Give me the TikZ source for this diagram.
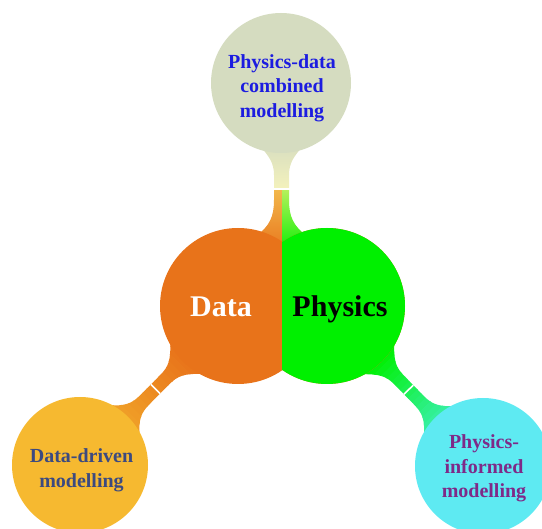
\documentclass[tikz,border=0pt]{standalone}
\usepackage{fontspec}
\setmainfont{Liberation Serif}

\definecolor{dataorange}{HTML}{E8731A}
\definecolor{physgreen}{HTML}{00F000}
\definecolor{sage}{HTML}{D5DCC0}
\definecolor{gold}{HTML}{F6B930}
\definecolor{aqua}{HTML}{5EEAF2}
\definecolor{stemorange}{HTML}{F0A028}
\definecolor{stemmint}{HTML}{38F0A8}
\definecolor{paleyellow}{HTML}{F4F2BC}
\definecolor{warmyellow}{HTML}{F2B84C}
\definecolor{limeyellow}{HTML}{B8F05C}
\definecolor{combblue}{HTML}{1C1CE0}
\definecolor{slateblue}{HTML}{3C4A80}
\definecolor{plum}{HTML}{7E2A88}

\tikzset{
  bubble/.style={circle, inner sep=0pt, minimum size=#1},
  label20/.style={font=\fontsize{20}{24.5}\selectfont\bfseries, align=center, inner sep=0pt},
  label30/.style={font=\fontsize{30}{36}\selectfont\bfseries, inner sep=0pt, anchor=base},
  tickmark/.style={white, line width=1.6pt},
}

\begin{document}
\begin{tikzpicture}[x=1pt,y=-1pt]
\useasboundingbox (0,0) rectangle (542,529);
\clip (0,0) rectangle (542,529);

% upper stem: from the central pair of circles up to the top bubble
\begin{scope}
  \clip (256,236) .. controls (270,226) and (274,216) .. (274,200) -- (274,175)
        .. controls (274,162) and (268,156) .. (262,148) -- (301,148)
        .. controls (295,156) and (289,162) .. (289,175) -- (289,200)
        .. controls (289,216) and (293,226) .. (307,236) -- (307,252) -- (256,252) -- cycle;
  \shade[top color=sage, bottom color=paleyellow] (240,140) rectangle (320,189.5);
  \shade[top color=warmyellow, bottom color=dataorange] (240,189) rectangle (282.2,255);
  \shade[top color=limeyellow, bottom color=physgreen] (282,189) rectangle (320,255);
\end{scope}
\draw[tickmark] (272,189) -- (291,189);

% lower-left stem, drawn along its own axis
\begin{scope}[shift={(183,361.3)}, rotate=225.2]
  \clip (-6,24) .. controls (8,9) and (14,6.5) .. (26,6.5) -- (54,6.5)
        .. controls (66,6.5) and (72,9) .. (84,22) -- (84,-22)
        .. controls (72,-9) and (66,-6.5) .. (54,-6.5) -- (26,-6.5)
        .. controls (14,-6.5) and (8,-9) .. (-6,-24) -- cycle;
  \foreach \i in {0,...,15}{
    \pgfmathsetmacro\ua{-8+\i*94/16}
    \pgfmathsetmacro\ub{\ua+94/16+0.6}
    \pgfmathtruncatemacro\p{\i*100/15}
    \fill[stemorange!\p!dataorange] (\ua,-30) rectangle (\ub,30);
  }
  \draw[tickmark] (39,-8) -- (39,8);
\end{scope}

% lower-right stem, drawn along its own axis
\begin{scope}[shift={(381.4,361.8)}, rotate=-45.7]
  \clip (-6,24) .. controls (8,9) and (14,6.5) .. (26,6.5) -- (53.5,6.5)
        .. controls (65.5,6.5) and (71.5,9) .. (83.5,22) -- (83.5,-22)
        .. controls (71.5,-9) and (65.5,-6.5) .. (53.5,-6.5) -- (26,-6.5)
        .. controls (14,-6.5) and (8,-9) .. (-6,-24) -- cycle;
  \foreach \i in {0,...,15}{
    \pgfmathsetmacro\ua{-8+\i*94/16}
    \pgfmathsetmacro\ub{\ua+94/16+0.6}
    \pgfmathtruncatemacro\p{\i*100/15}
    \fill[stemmint!\p!physgreen] (\ua,-30) rectangle (\ub,30);
  }
  \draw[tickmark] (39,-8) -- (39,8);
\end{scope}

% central pair of circles, split down the middle
\fill[dataorange] (238,306) circle[radius=78] (327,306) circle[radius=78];
\begin{scope}
  \clip (282,200) rectangle (420,400);
  \fill[physgreen] (238,306) circle[radius=78] (327,306) circle[radius=78];
\end{scope}

% outer bubbles
\node[bubble=140pt, fill=sage] (combined) at (281,83) {};
\node[bubble=136pt, fill=gold] (driven) at (80,465) {};
\node[bubble=136pt, fill=aqua] (informed) at (483,466) {};

% labels
\node[label20, text=combblue] (combtext) at (282,88) {Physics-data\\combined\\modelling};
\node[label20, text=slateblue] (driventext) at (81.5,470.4) {Data-driven\\modelling};
\node[label20, text=plum] (informtext) at (484,468.4) {Physics-\\informed\\modelling};
\node[label30, text=white] (datatext) at (221,317) {Data};
\node[label30, text=black] (phystext) at (340,317) {Physics};
\end{tikzpicture}
\end{document}
